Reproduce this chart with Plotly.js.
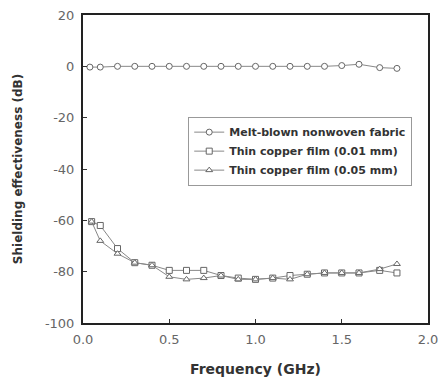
<!DOCTYPE html>
<html>
<head>
<meta charset="utf-8">
<script src="https://cdn.plot.ly/plotly-3.0.1.min.js"></script>
<style>html,body{margin:0;padding:0;background:#fff;}#chart{width:443px;height:381px;}</style>
</head>
<body>
<div id="chart"></div>
<script>
var seriesNames = ["Melt-blown nonwoven fabric", "Thin copper film (0.01 mm)", "Thin copper film (0.05 mm)"];
var freqMelt = [0.04, 0.1, 0.2, 0.3, 0.4, 0.5, 0.6, 0.7, 0.8, 0.9, 1.0, 1.1, 1.2, 1.3, 1.4, 1.5, 1.6, 1.72, 1.82];
var seMelt = [-0.3, -0.3, 0, 0, 0, 0, 0, 0, 0, 0, 0, 0, 0, 0, 0, 0.3, 0.8, -0.5, -0.8];
var freqCu = [0.05, 0.1, 0.2, 0.3, 0.4, 0.5, 0.6, 0.7, 0.8, 0.9, 1.0, 1.1, 1.2, 1.3, 1.4, 1.5, 1.6, 1.72, 1.82];
var seCu01 = [-60.5, -62, -71, -76.5, -77.5, -79.5, -79.5, -79.5, -81.5, -82.5, -83, -82.5, -81.5, -81, -80.5, -80.5, -80.5, -79.5, -80.5];
var seCu05 = [-60.5, -68, -73, -76.5, -77.5, -82, -83, -82.5, -81.5, -83, -83, -82.5, -83, -81, -80.5, -80.5, -80.5, -79, -77];
var yTicks = [20, 0, -20, -40, -60, -80, -100];
var yTickText = ["20", "0", "-20", "-40", "-60", "-80", "-100"];
var xTicks = [0, 0.5, 1.0, 1.5, 2.0];
var xTickText = ["0.0", "0.5", "1.0", "1.5", "2.0"];

var FONT = "DejaVu Sans, Liberation Sans, sans-serif";
var lineStyle = {color: "#888", width: 1};
function mk(sym, sz) { return {symbol: sym, size: sz, color: "#fff", line: {color: "#666", width: 1}}; }

var traces = [
  {x: freqMelt, y: seMelt, name: seriesNames[0], mode: "lines+markers", line: lineStyle, marker: mk("circle", 6)},
  {x: freqCu, y: seCu01, name: seriesNames[1], mode: "lines+markers", line: lineStyle, marker: mk("square", 6)},
  {x: freqCu, y: seCu05, name: seriesNames[2], mode: "lines+markers", line: lineStyle, marker: mk("triangle-up", 6)}
];

var layout = {
  width: 443, height: 381,
  margin: {l: 83, r: 15, t: 15, b: 58},
  paper_bgcolor: "#fff", plot_bgcolor: "#fff",
  font: {family: FONT, color: "#333"},
  showlegend: true,
  legend: {
    x: 0.305, y: 0.67, xanchor: "left", yanchor: "top",
    bgcolor: "#fff", bordercolor: "#999", borderwidth: 1,
    font: {size: 11, color: "#333", family: FONT, weight: "bold"},
    tracegroupgap: 0, itemwidth: 30
  },
  xaxis: {
    range: [0, 2], tickvals: xTicks, ticktext: xTickText,
    ticks: "inside", ticklen: 4, tickcolor: "#333",
    showline: true, linecolor: "#222", linewidth: 2, mirror: true,
    showgrid: false, zeroline: false, ticklabelstandoff: 3,
    tickfont: {size: 13, color: "#666", family: FONT},
    title: {text: "<b>Frequency (GHz)</b>", font: {size: 14, color: "#333", family: FONT}, standoff: 19}
  },
  yaxis: {
    range: [-100, 20], tickvals: yTicks, ticktext: yTickText,
    ticks: "inside", ticklen: 4, tickcolor: "#333",
    showline: true, linecolor: "#222", linewidth: 2, mirror: true,
    showgrid: false, zeroline: false, ticklabelstandoff: 4,
    tickfont: {size: 13, color: "#666", family: FONT},
    title: {text: "<b>Shielding effectiveness (dB)</b>", font: {size: 12, color: "#333", family: FONT}, standoff: 20}
  }
};

Plotly.newPlot("chart", traces, layout, {displayModeBar: false, staticPlot: true});
</script>
</body>
</html>
